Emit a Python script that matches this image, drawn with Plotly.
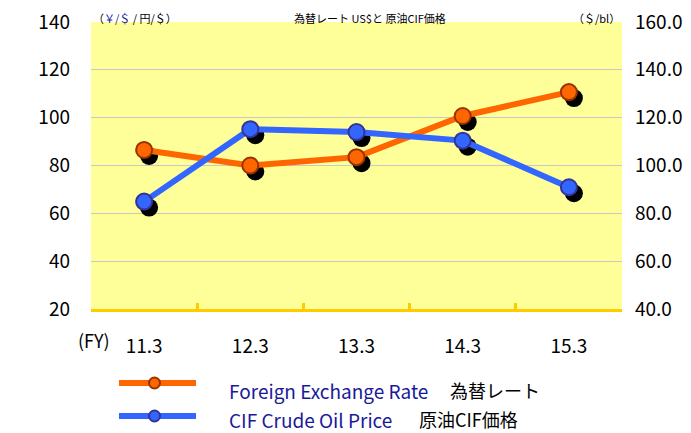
import plotly.graph_objects as go

FONT = "Noto Sans CJK JP"

# data
periods = ["11.3", "12.3", "13.3", "14.3", "15.3"]
fx_rate = [86.5, 80.0, 83.5, 100.7, 110.7]        # yen / $ (left axis)
cif_price = [84.9, 115.2, 114.0, 110.4, 90.9]     # $ / bl (right axis)
left_ticks = [20, 40, 60, 80, 100, 120, 140]
right_ticks = [40, 60, 80, 100, 120, 140, 160]

ORANGE = "#FF6600"
ORANGE_EDGE = "#993300"
BLUE = "#3366FF"
BLUE_EDGE = "#333399"
TEXT_BLUE = "#1A1A99"

# page size and plot area in page pixels; the page body adds an 8px margin
W, H = 691, 433
OFF = 8
L, R, T, B = 91, 622, 22, 309


def px_x(x):
    return (x - L) / (R - L)


def px_y(y):
    return (B - y) / (B - T)


# shadow offset in pixels, turned into axis-range shifts
SH_X, SH_Y = 5, 6
dx = SH_X * len(periods) / (R - L)
dy_left = SH_Y * (left_ticks[-1] - left_ticks[0]) / (B - T)
dy_right = SH_Y * (right_ticks[-1] - right_ticks[0]) / (B - T)

fig = go.Figure()

# drop shadows (drawn first, on the base subplot)
fig.add_trace(go.Scatter(x=periods, y=fx_rate, xaxis="x", yaxis="y", mode="markers",
                         marker=dict(size=18, color="black"), showlegend=False, hoverinfo="skip"))
fig.add_trace(go.Scatter(x=periods, y=cif_price, xaxis="x", yaxis="y2", mode="markers",
                         marker=dict(size=18, color="black"), showlegend=False, hoverinfo="skip"))

# main series
fig.add_trace(go.Scatter(x=periods, y=fx_rate, xaxis="x2", yaxis="y3", mode="lines+markers",
                         name="Foreign Exchange Rate",
                         line=dict(color=ORANGE, width=6),
                         marker=dict(size=16, color=ORANGE, line=dict(color=ORANGE_EDGE, width=2)),
                         showlegend=False))
fig.add_trace(go.Scatter(x=periods, y=cif_price, xaxis="x2", yaxis="y4", mode="lines+markers",
                         name="CIF Crude Oil Price",
                         line=dict(color=BLUE, width=6),
                         marker=dict(size=16, color=BLUE, line=dict(color=BLUE_EDGE, width=2)),
                         showlegend=False))

hidden = dict(showgrid=False, zeroline=False, showticklabels=False, ticks="", showline=False,
              automargin=False)
tick_font = dict(family=FONT, size=19, color="black")

fig.update_layout(
    width=W, height=H,
    margin=dict(l=L - OFF, r=W - R + OFF, t=T - OFF, b=H - B + OFF, pad=0, autoexpand=False),
    paper_bgcolor="white",
    plot_bgcolor="#FFFF99",
    font=dict(family=FONT, size=18, color="black"),
    showlegend=False,
    xaxis=dict(type="category", range=[-0.5 - dx, len(periods) - 0.5 - dx], **hidden),
    yaxis=dict(range=[left_ticks[0] + dy_left, left_ticks[-1] + dy_left], **hidden),
    yaxis2=dict(overlaying="y", range=[right_ticks[0] + dy_right, right_ticks[-1] + dy_right], **hidden),
    xaxis2=dict(
        overlaying="x", type="category", range=[-0.5, len(periods) - 0.5],
        showgrid=False, zeroline=False, automargin=False,
        showline=True, linecolor="#FFCC00", linewidth=3,
        ticks="inside", tickson="boundaries", ticklen=6, tickwidth=3, tickcolor="#FFCC00",
        tickfont=tick_font, ticklabelstandoff=18,
    ),
    yaxis3=dict(
        overlaying="y", range=[left_ticks[0], left_ticks[-1]], tickvals=left_ticks,
        showgrid=True, gridcolor="#C8C8C8", gridwidth=1, zeroline=False, automargin=False,
        showline=False, ticks="", tickfont=tick_font, ticklabelstandoff=20,
        ticklabeloverflow="allow",
    ),
    yaxis4=dict(
        overlaying="y", side="right", range=[right_ticks[0], right_ticks[-1]],
        tickvals=right_ticks, tickformat=".1f", automargin=False,
        showgrid=False, zeroline=False, showline=False, ticks="",
        tickfont=tick_font, ticklabelstandoff=12, ticklabeloverflow="allow",
    ),
)

# titles above the plot (kept in the thin band above the plot area)
top_font = dict(family=FONT, size=11, color="black")
fig.add_annotation(xref="paper", yref="paper", x=px_x(370), y=px_y(OFF), xanchor="center", yanchor="top",
                   text="為替レート US$と 原油CIF価格", showarrow=False, font=top_font)
fig.add_annotation(xref="paper", yref="paper", x=px_x(L), y=px_y(OFF), xanchor="left", yanchor="top",
                   text=f"（<span style='color:{TEXT_BLUE}'>￥/＄</span> / 円/＄）", showarrow=False,
                   font=top_font)
fig.add_annotation(xref="paper", yref="paper", x=px_x(R), y=px_y(OFF), xanchor="right", yanchor="top",
                   text="（＄/bl）", showarrow=False, font=top_font)
fig.add_annotation(xref="paper", yref="paper", x=px_x(94), y=px_y(340), xanchor="center", yanchor="middle",
                   text="(FY)", showarrow=False, font=dict(family=FONT, size=18, color="black"))

# legend drawn by hand
legend_rows = [
    ("Foreign Exchange Rate", "為替レート", ORANGE, ORANGE_EDGE, 383, 390, 448),
    ("CIF Crude Oil Price", "原油CIF価格", BLUE, BLUE_EDGE, 416, 419, 417),
]
for en, jp, color, edge, ly, ty, jx in legend_rows:
    fig.add_shape(type="line", xref="paper", yref="paper",
                  x0=px_x(119), x1=px_x(196), y0=px_y(ly), y1=px_y(ly),
                  line=dict(color=color, width=6))
    fig.add_shape(type="circle", xref="paper", yref="paper",
                  x0=px_x(149), x1=px_x(160), y0=px_y(ly + 5.5), y1=px_y(ly - 5.5),
                  fillcolor=color, line=dict(color=edge, width=2))
    fig.add_annotation(xref="paper", yref="paper", x=px_x(227), y=px_y(ty), xanchor="left",
                       yanchor="middle", text=en, showarrow=False,
                       font=dict(family=FONT, size=19, color=TEXT_BLUE))
    fig.add_annotation(xref="paper", yref="paper", x=px_x(jx), y=px_y(ty), xanchor="left",
                       yanchor="middle", text=jp, showarrow=False,
                       font=dict(family=FONT, size=18, color="black"))

fig.write_html("out.html")
